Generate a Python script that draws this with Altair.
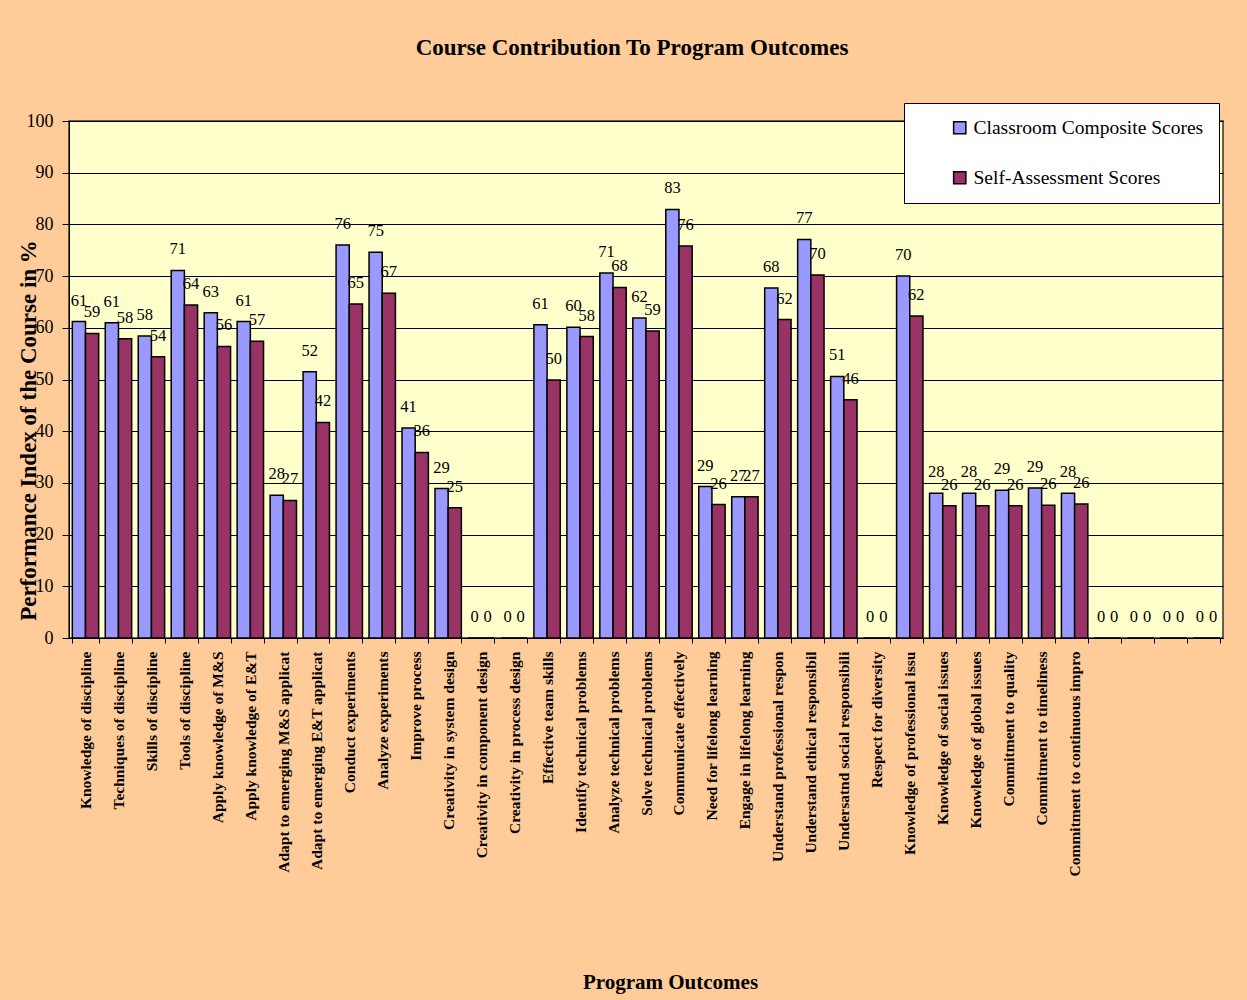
import altair as alt
import pandas as pd

categories = [
    "Knowledge of discipline", "Techniques of discipline", "Skills of discipline",
    "Tools of discipline", "Apply knowledge of M&S", "Apply knowledge of E&T",
    "Adapt to emerging M&S applicat", "Adapt to emerging E&T applicat",
    "Conduct experiments", "Analyze experiments", "Improve process",
    "Creativity in system design", "Creativity in component design",
    "Creativity in process design", "Effective team skills",
    "Identify technical problems", "Analyze technical problems",
    "Solve technical problems", "Communicate effectively",
    "Need for lifelong learning", "Engage in lifelong learning",
    "Understand professional respon", "Understand ethical responsibil",
    "Undersatnd social responsibili", "Respect for diversity",
    "Knowledge of professional issu", "Knowledge of social issues",
    "Knowledge of global issues", "Commitment to quality",
    "Commitment to timeliness", "Commitment to continuous impro",
    " ", "  ", "   ", "    ",
]

classroom = [61.2, 61.0, 58.4, 71.1, 62.9, 61.2, 27.6, 51.5, 76.0, 74.6, 40.6,
             28.9, 0, 0, 60.6, 60.1, 70.6, 61.9, 82.9, 29.3, 27.3, 67.7, 77.1,
             50.6, 0, 70.0, 28.0, 28.0, 28.6, 29.0, 28.0, 0, 0, 0, 0]

self_assessment = [58.9, 57.9, 54.4, 64.4, 56.4, 57.4, 26.6, 41.7, 64.6, 66.7, 35.9,
                   25.2, 0, 0, 49.9, 58.3, 67.8, 59.4, 75.8, 25.8, 27.3, 61.6, 70.2,
                   46.1, 0, 62.3, 25.6, 25.6, 25.6, 25.7, 25.9, 0, 0, 0, 0]

series = ["Classroom Composite Scores", "Self-Assessment Scores"]
colors = ["#9999FF", "#993366"]

rows = []
for i, c in enumerate(categories):
    rows.append({"outcome": c, "series": series[0], "value": classroom[i]})
    rows.append({"outcome": c, "series": series[1], "value": self_assessment[i]})
df = pd.DataFrame(rows)

FONT = "Liberation Serif"

x_enc = alt.X(
    "outcome:N",
    sort=categories,
    scale=alt.Scale(paddingInner=0.2, paddingOuter=0.1),
    axis=alt.Axis(
        title="Program Outcomes",
        titleFont=FONT, titleFontSize=21, titleFontWeight="bold", titleColor="black",
        titleX=601, titleY=344, titleBaseline="middle", titleAnchor="middle",
        labelAngle=270, labelAlign="right", labelBaseline="middle",
        labelFont=FONT, labelFontSize=15.5, labelFontWeight="bold", labelColor="black",
        labelPadding=8, labelLimit=400, labelOverlap=False,
        tickBand="extent", tickSize=5, tickColor="black",
        domainColor="black", grid=False,
    ),
)

y_enc = alt.Y(
    "value:Q",
    scale=alt.Scale(domain=[0, 100]),
    axis=alt.Axis(
        title="Performance Index of the Course in %",
        titleFont=FONT, titleFontSize=23, titleFontWeight="bold", titleColor="black",
        titleAngle=270, titleX=-41, titleY=309, titleBaseline="middle", titleAlign="center",
        values=list(range(0, 101, 10)),
        labelFont=FONT, labelFontSize=18, labelColor="black", labelPadding=9,
        tickSize=7, tickColor="black", domainColor="black",
        grid=True, gridColor="black", gridWidth=1,
    ),
)

color_enc = alt.Color(
    "series:N",
    scale=alt.Scale(domain=series, range=colors),
    legend=alt.Legend(
        title=None, orient="none", legendX=835, legendY=-18,
        fillColor="white", strokeColor="black", padding=15,
        symbolType="square", symbolSize=150, symbolStrokeColor="black",
        symbolStrokeWidth=1.5, symbolOffset=31,
        labelFont=FONT, labelFontSize=19.5, labelColor="black", labelOffset=4,
        rowPadding=29, labelLimit=400,
    ),
)

xoff = alt.XOffset("series:N", sort=series, scale=alt.Scale(domain=series))

bars = alt.Chart(df).mark_bar(stroke="black", strokeWidth=1.5).encode(
    x=x_enc, y=y_enc, color=color_enc, xOffset=xoff,
)

labels = alt.Chart(df).mark_text(
    font=FONT, fontSize=16.5, color="black", baseline="middle", align="center", dy=-21,
).encode(
    x=alt.X("outcome:N", sort=categories),
    y="value:Q",
    xOffset=xoff,
    text=alt.Text("value:Q", format=".0f"),
)

chart = alt.layer(bars, labels).properties(
    width=1154,
    height=517,
    padding={"left": 69, "top": 121, "right": 24, "bottom": 362},
    autosize=alt.AutoSizeParams(type="none"),
    background="#FFCC99",
    title=alt.TitleParams(
        "Course Contribution To Program Outcomes",
        font=FONT, fontSize=23, fontWeight="bold", color="black",
        anchor="middle", frame="group", offset=43, dx=-14,
    ),
).configure_view(fill="#FFFFCC", stroke="#333333", strokeWidth=1.5)

chart.save("out.html", embed_options={"renderer": "svg", "actions": False})
